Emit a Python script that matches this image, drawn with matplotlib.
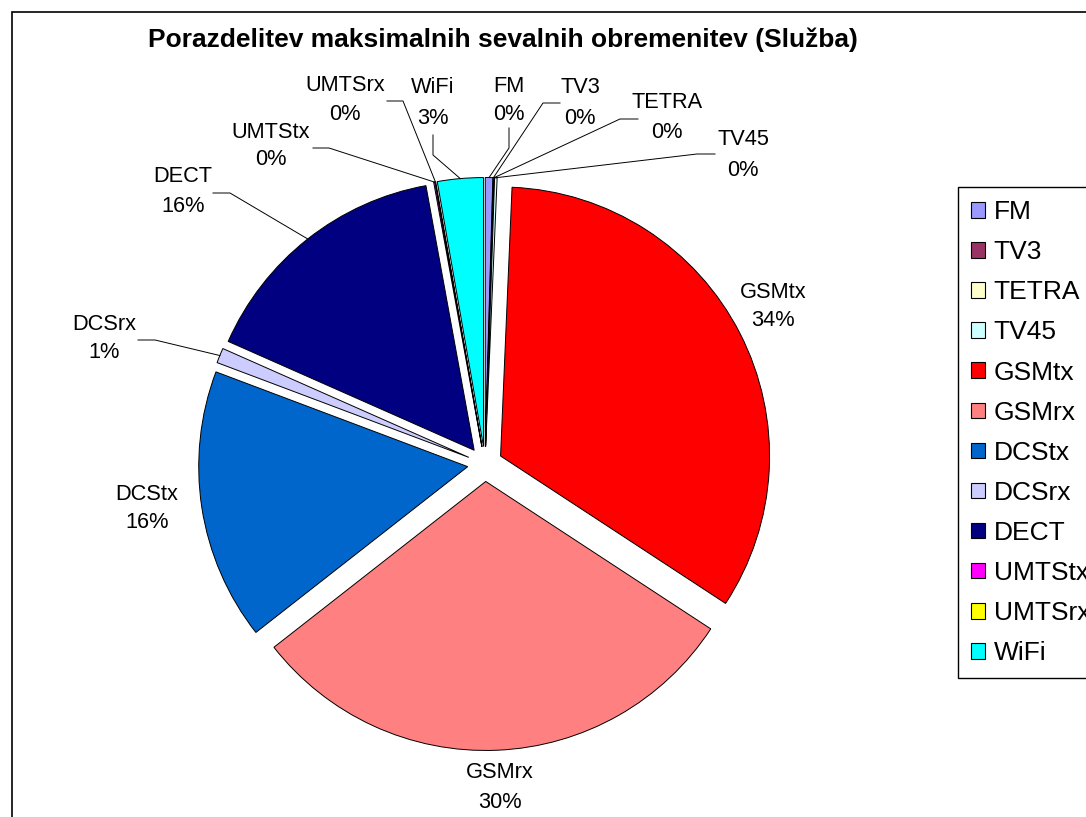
import matplotlib
matplotlib.use('Agg')
import matplotlib.pyplot as plt
from matplotlib.patches import Rectangle, Patch
import numpy as np

plt.rcParams['font.family'] = ['Liberation Sans', 'DejaVu Sans']

# ---------------- data ----------------
categories = ['FM', 'TV3', 'TETRA', 'TV45', 'GSMtx', 'GSMrx', 'DCStx',
              'DCSrx', 'DECT', 'UMTStx', 'UMTSrx', 'WiFi']
values = [0.45, 0.04, 0.04, 0.15, 33.55, 30.2, 16.3, 0.9, 15.5, 0.08, 0.04, 2.75]
colors = ['#9999FF', '#993366', '#FFFFCC', '#CCFFFF', '#FF0000', '#FF8080',
          '#0066CC', '#CCCCFF', '#000080', '#FF00FF', '#FFFF00', '#00FFFF']
title = 'Porazdelitev maksimalnih sevalnih obremenitev (Služba)'

# ---------------- layout (pixels) ----------------
W, H = 1086, 817
CX, CY, R = 485, 464, 269


def P(x, y):
    return ((x - CX) / R, (CY - y) / R)


# name centre, percent centre, leader spec
label_layout = {
    'FM':     ((509, 87), (509, 115), ('v', 509, 128, 148)),
    'TV3':    ((580, 88), (580, 118), ('h', 560, 543, 103)),
    'TETRA':  ((667, 103), (667, 132), ('h', 638, 620, 119)),
    'TV45':   ((743, 140), (743, 170), ('h', 715, 697, 154)),
    'GSMtx':  ((773, 292), (773, 321), None),
    'GSMrx':  ((500, 773), (500, 802), None),
    'DCStx':  ((147, 495), (147, 523), None),
    'DCSrx':  ((104, 325), (104, 353), ('h', 138, 155, 340)),
    'DECT':   ((183, 177), (183, 206), ('h', 213, 230, 193)),
    'UMTStx': ((271, 132), (271, 160), ('h', 313, 329, 148)),
    'UMTSrx': ((345, 86), (345, 114), ('h', 387, 403, 101)),
    'WiFi':   ((433, 88), (433, 118), ('v', 433, 135, 155)),
}

fig = plt.figure(figsize=(W / 100, H / 100), dpi=100)
ax = fig.add_axes([0, 0, 1, 1])

wedges, _ = ax.pie(values, colors=colors, explode=[0.065] * len(values),
                   startangle=90, counterclock=False, center=(0, 0), radius=1,
                   wedgeprops=dict(edgecolor='black', linewidth=0.7))

x0, y_top = P(0, 0)
x1, y_bot = P(W, H)
ax.set_xlim(x0, x1)
ax.set_ylim(y_bot, y_top)
ax.set_aspect('equal')
ax.axis('off')

total = sum(values)
for name, v, w in zip(categories, values, wedges):
    (nx, ny), (px, py), lead = label_layout[name]
    pct = f"{round(v / total * 100):.0f}%"
    ax.text(*P(nx, ny), name, ha='center', va='center', fontsize=15.7)
    ax.text(*P(px, py), pct, ha='center', va='center', fontsize=15.7)
    if lead is not None:
        mid = np.deg2rad((w.theta1 + w.theta2) / 2)
        ax_x = w.center[0] + w.r * np.cos(mid)
        ax_y = w.center[1] + w.r * np.sin(mid)
        if lead[0] == 'v':
            p1 = P(lead[1], lead[2]); p2 = P(lead[1], lead[3])
        else:
            p1 = P(lead[1], lead[3]); p2 = P(lead[2], lead[3])
        ax.plot([p1[0], p2[0], ax_x], [p1[1], p2[1], ax_y],
                color='black', lw=0.7, solid_joinstyle='miter')

ax.text(*P(503, 40), title, ha='center', va='center', fontsize=19,
        fontweight='bold')

handles = [Patch(facecolor=c, edgecolor='black', linewidth=0.8, label=n)
           for n, c in zip(categories, colors)]
leg = ax.legend(handles=handles, loc='upper left',
                bbox_to_anchor=(958 / W, 1 - 187 / H),
                bbox_transform=fig.transFigure, frameon=True, fancybox=False,
                edgecolor='black', framealpha=1, fontsize=19,
                handlelength=0.53, handleheight=0.53, handletextpad=0.32,
                labelspacing=0.61, borderpad=0.5, borderaxespad=0)
leg.get_frame().set_linewidth(1.0)

fig.patches.append(Rectangle((12 / W, -0.1), 2, 1 - 12 / H + 0.1,
                             transform=fig.transFigure, fill=False,
                             edgecolor='black', linewidth=1.2))

fig.savefig('out.png', dpi=100)
